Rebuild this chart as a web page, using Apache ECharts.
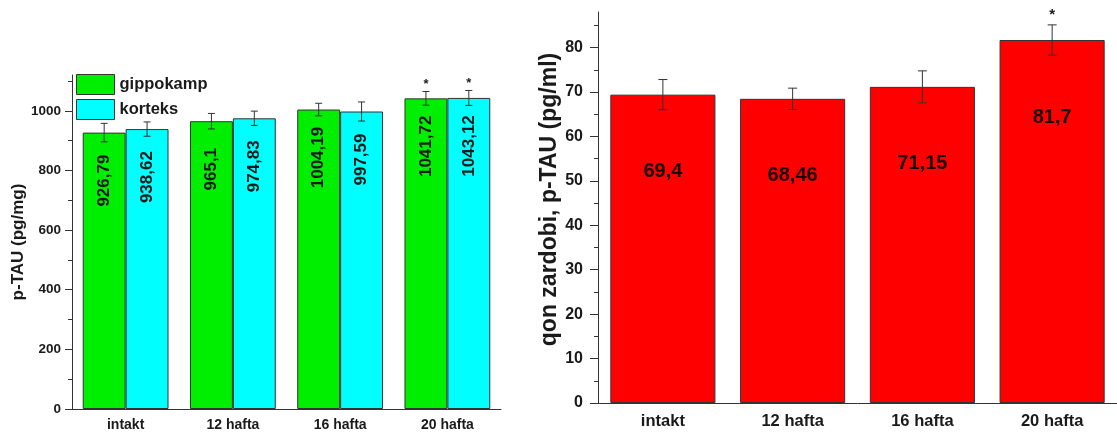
<!DOCTYPE html>
<html>
<head>
<meta charset="utf-8">
<script src="https://cdn.jsdelivr.net/npm/echarts@6/dist/echarts.min.js"></script>
<style>
html,body{margin:0;padding:0;background:#fff;}
#c{width:1117px;height:437px;}
</style>
</head>
<body>
<div id="c"></div>
<script>
// ---- data ----
const categories = ['intakt', '12 hafta', '16 hafta', '20 hafta'];
const gippokamp = [926.79, 965.1, 1004.19, 1041.72];
const gippokampErr = [31, 26, 21, 23];
const korteks = [938.62, 974.83, 997.59, 1043.12];
const korteksErr = [24, 24, 32, 25];
const leftMarks = ['', '', '', '*'];
const serum = [69.4, 68.46, 71.15, 81.7];
const serumErr = [3.4, 2.4, 3.6, 3.4];
const rightMarks = ['', '', '', '*'];
const leftMajorTicks = [0, 200, 400, 600, 800, 1000];
const leftMinorTicks = [100, 300, 500, 700, 900, 1100];
const rightMajorTicks = [0, 10, 20, 30, 40, 50, 60, 70, 80];
const rightMinorTicks = [5, 15, 25, 35, 45, 55, 65, 75, 85];
const leftTitle = 'p-TAU (pg/mg)';
const rightTitle = 'qon zardobi, p-TAU (pg/ml)';

const FONT = '"Liberation Sans", Arial, sans-serif';
const INK = '#1a1a1a';
const fmt = v => String(v).replace('.', ',');

function errRender(barIndex, nBars, gapFrac, capHalf, marks, starSize, starGap) {
  return function (params, api) {
    const i = api.value(0), v = api.value(1), e = api.value(2);
    const band = api.size([1, 0])[0];
    const barW = band * (1 - gapFrac) / nBars;
    const x = api.coord([i, 0])[0] + (barIndex - (nBars - 1) / 2) * barW;
    const yT = api.coord([i, v + e])[1];
    const yB = api.coord([i, v - e])[1];
    const st = { stroke: '#333', lineWidth: 1 };
    const children = [
      { type: 'line', shape: { x1: x, y1: yT, x2: x, y2: yB }, style: st },
      { type: 'line', shape: { x1: x - capHalf, y1: yT, x2: x + capHalf, y2: yT }, style: st },
      { type: 'line', shape: { x1: x - capHalf, y1: yB, x2: x + capHalf, y2: yB }, style: st }
    ];
    const m = marks[params.dataIndex];
    if (m) {
      children.push({
        type: 'text', x: x, y: yT - starGap,
        style: { text: m, align: 'center', verticalAlign: 'middle', textAlign: 'center', textVerticalAlign: 'middle',
                 font: 'bold ' + starSize + 'px ' + FONT, fill: INK }
      });
    }
    return { type: 'group', children: children };
  };
}

const errData = (vals, errs) => vals.map((v, i) => [i, v, errs[i]]);

const chart = echarts.init(document.getElementById('c'));
chart.setOption({
  animation: false,
  backgroundColor: '#fff',
  textStyle: { fontFamily: FONT },
  grid: [
    { left: 72, top: 75, width: 429, height: 334 },
    { left: 598, top: 12, width: 525, height: 391 }
  ],
  legend: {
    data: ['gippokamp', 'korteks'],
    left: 76, top: 74, orient: 'vertical', padding: 0,
    itemWidth: 38, itemHeight: 20, itemGap: 4,
    icon: 'rect',
    itemStyle: { borderColor: '#333', borderWidth: 1 },
    textStyle: { fontSize: 16.5, fontWeight: 'bold', color: INK, fontFamily: FONT }
  },
  xAxis: [
    { gridIndex: 0, type: 'category', data: categories, boundaryGap: true,
      axisLine: { lineStyle: { color: '#333', width: 1 } },
      axisTick: { alignWithLabel: true, length: 5, lineStyle: { color: '#333' } },
      axisLabel: { fontSize: 14, fontWeight: 'bold', color: INK, margin: 9, fontFamily: FONT } },
    { gridIndex: 0, type: 'category', data: categories, boundaryGap: true, position: 'bottom',
      axisLine: { show: false },
      axisTick: { alignWithLabel: false, length: 4, lineStyle: { color: '#333' } },
      axisLabel: { show: false } },
    { gridIndex: 1, type: 'category', data: categories, boundaryGap: true,
      axisLine: { lineStyle: { color: '#333', width: 1 } },
      axisTick: { alignWithLabel: true, length: 8, lineStyle: { color: '#333' } },
      axisLabel: { fontSize: 16.5, fontWeight: 'bold', color: INK, margin: 10, fontFamily: FONT } },
    { gridIndex: 1, type: 'category', data: categories, boundaryGap: true, position: 'bottom',
      axisLine: { show: false },
      axisTick: { alignWithLabel: false, length: 4, lineStyle: { color: '#333' } },
      axisLabel: { show: false } }
  ],
  yAxis: [
    { gridIndex: 0, type: 'value', min: 0, max: 1120, position: 'left',
      name: leftTitle, nameLocation: 'middle', nameGap: 37,
      nameTextStyle: { fontSize: 17, fontWeight: 'bold', color: INK, fontFamily: FONT },
      splitLine: { show: false },
      axisLine: { show: true, lineStyle: { color: '#333', width: 1 } },
      axisTick: { show: true, length: 7, customValues: leftMajorTicks, lineStyle: { color: '#333' } },
      axisLabel: { customValues: leftMajorTicks, formatter: v => String(v), fontSize: 13.5, fontWeight: 'bold', color: INK, margin: 11, fontFamily: FONT } },
    { gridIndex: 0, type: 'value', min: 0, max: 1120, position: 'left', offset: 0,
      splitLine: { show: false },
      axisLine: { show: false },
      axisTick: { show: true, length: 4, customValues: leftMinorTicks, lineStyle: { color: '#333' } },
      axisLabel: { show: false } },
    { gridIndex: 1, type: 'value', min: 0, max: 88, position: 'left',
      name: rightTitle, nameLocation: 'middle', nameGap: 36,
      nameTextStyle: { fontSize: 23, fontWeight: 'bold', color: INK, fontFamily: FONT, padding: [0, 0, 0, 16] },
      splitLine: { show: false },
      axisLine: { show: true, lineStyle: { color: '#333', width: 1 } },
      axisTick: { show: true, length: 8, customValues: rightMajorTicks, lineStyle: { color: '#333' } },
      axisLabel: { customValues: rightMajorTicks, formatter: v => String(v), fontSize: 16, fontWeight: 'bold', color: INK, margin: 15, fontFamily: FONT } },
    { gridIndex: 1, type: 'value', min: 0, max: 88, position: 'left', offset: 0,
      splitLine: { show: false },
      axisLine: { show: false },
      axisTick: { show: true, length: 4, customValues: rightMinorTicks, lineStyle: { color: '#333' } },
      axisLabel: { show: false } }
  ],
  series: [
    { name: 'gippokamp', type: 'bar', xAxisIndex: 0, yAxisIndex: 0, data: gippokamp,
      barGap: '0%', barCategoryGap: '20%',
      itemStyle: { color: '#00ee00', borderColor: '#333', borderWidth: 1 },
      label: { show: true, position: ['50%', 48], rotate: 90, align: 'center', verticalAlign: 'middle',
               fontSize: 17, fontWeight: 'bold', color: INK, fontFamily: FONT, formatter: p => fmt(p.value) } },
    { name: 'korteks', type: 'bar', xAxisIndex: 0, yAxisIndex: 0, data: korteks,
      barGap: '0%', barCategoryGap: '20%',
      itemStyle: { color: '#00ffff', borderColor: '#333', borderWidth: 1 },
      label: { show: true, position: ['50%', 48], rotate: 90, align: 'center', verticalAlign: 'middle',
               fontSize: 17, fontWeight: 'bold', color: INK, fontFamily: FONT, formatter: p => fmt(p.value) } },
    { name: 'serum', type: 'bar', xAxisIndex: 2, yAxisIndex: 2, data: serum,
      barCategoryGap: '19%',
      itemStyle: { color: '#ff0000', borderColor: '#333', borderWidth: 1 },
      label: { show: true, position: ['50%', 77], align: 'center', verticalAlign: 'middle',
               fontSize: 20, fontWeight: 'bold', color: '#1a0000', fontFamily: FONT, formatter: p => fmt(p.value) } },
    { type: 'custom', xAxisIndex: 0, yAxisIndex: 0, z: 5, data: errData(gippokamp, gippokampErr),
      encode: { x: 0, y: 1 }, renderItem: errRender(0, 2, 0.2, 3.5, leftMarks, 13, 7) },
    { type: 'custom', xAxisIndex: 0, yAxisIndex: 0, z: 5, data: errData(korteks, korteksErr),
      encode: { x: 0, y: 1 }, renderItem: errRender(1, 2, 0.2, 3.5, leftMarks, 13, 7) },
    { type: 'custom', xAxisIndex: 2, yAxisIndex: 2, z: 5, data: errData(serum, serumErr),
      encode: { x: 0, y: 1 }, renderItem: errRender(0, 1, 0.19, 4.5, rightMarks, 15, 10) }
  ]
});
</script>
</body>
</html>
